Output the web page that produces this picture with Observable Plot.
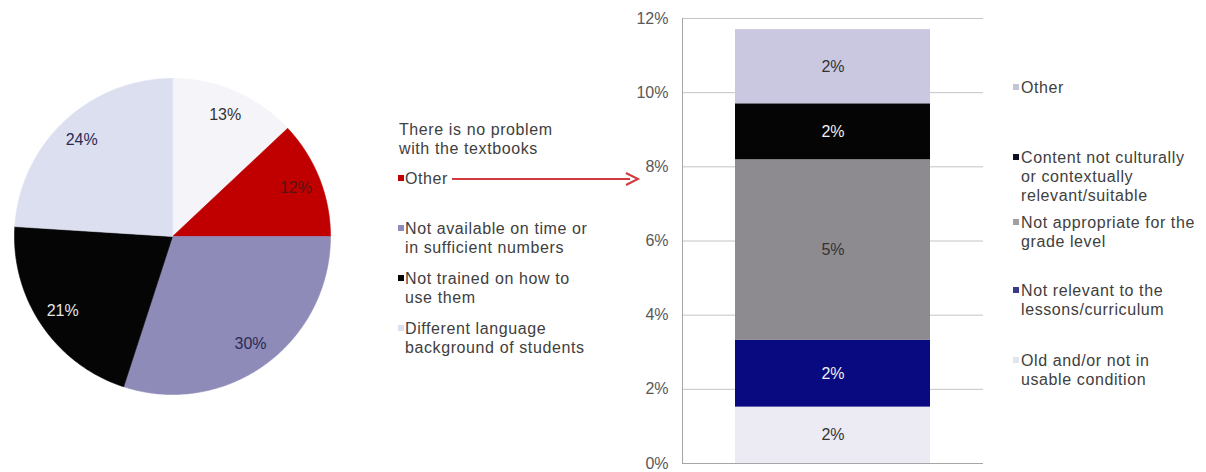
<!DOCTYPE html>
<html>
<head>
<meta charset="utf-8">
<script src="https://cdn.jsdelivr.net/npm/d3@7"></script>
<script src="https://cdn.jsdelivr.net/npm/@observablehq/plot@0.6"></script>
<style>
  html, body { margin: 0; padding: 0; background: #fff; }
  #root { position: relative; width: 1206px; height: 472px; overflow: hidden;
          font-family: "Liberation Sans", Arial, sans-serif; color: #404040; }
  .abs { position: absolute; left: 0; top: 0; }
  .leg { position: absolute; font-size: 16px; line-height: 19px; letter-spacing: 0.6px; white-space: nowrap; }
  .mk { position: absolute; width: 6px; height: 6px; }
</style>
</head>
<body>
<div id="root"></div>
<script>
// ---------- DATA ----------
// Pie: reasons textbooks are not used (clockwise from 12 o'clock)
const pieLabels = [
  "There is no problem with the textbooks",
  "Other",
  "Not available on time or in sufficient numbers",
  "Not trained on how to use them",
  "Different language background of students"
];
const pieValues = [0.13, 0.12, 0.30, 0.21, 0.24];
const pieColors = ["#f4f4f9", "#c00000", "#8e8bb8", "#050505", "#dcdff0"];
const pieTextColors = ["#333333", "#5a1212", "#2a2a55", "#e6e6e6", "#2a2a55"];
const pieLegendLines = [
  ["There is no problem", "with the textbooks"],
  ["Other"],
  ["Not available on time or", "in sufficient numbers"],
  ["Not trained on how to", "use them"],
  ["Different language", "background of students"]
];

// Stacked bar: breakdown of "Other" (bottom to top)
const barLabels = [
  "Old and/or not in usable condition",
  "Not relevant to the lessons/curriculum",
  "Not appropriate for the grade level",
  "Content not culturally or contextually relevant/suitable",
  "Other"
];
const barValues = [0.0152, 0.0180, 0.0487, 0.0151, 0.0200];
const barColors = ["#ecebf3", "#0a0a80", "#8e8b90", "#050505", "#c9c8e0"];
const barTextColors = ["#333333", "#f0f0f0", "#333333", "#f0f0f0", "#333333"];
const barMarkerColors = ["#e4e4ec", "#3a3a8a", "#a0a0a4", "#101020", "#c4c4d4"];
const barLegendLines = [
  ["Old and/or not in", "usable condition"],
  ["Not relevant to the", "lessons/curriculum"],
  ["Not appropriate for the", "grade level"],
  ["Content not culturally", "or contextually", "relevant/suitable"],
  ["Other"]
];
const yTicks = [0, 0.02, 0.04, 0.06, 0.08, 0.10, 0.12];
const barCategory = ["Textbooks: other"];

// ---------- LAYOUT ----------
const root = document.getElementById("root");
const fmt = d3.format(".0%");

// ---------- PIE ----------
const arcs = d3.pie().sort(null).value(d => d)(pieValues);
const slicePts = [];
arcs.forEach((a, i) => {
  const steps = Math.max(2, Math.ceil((a.endAngle - a.startAngle) / (Math.PI / 180)));
  slicePts.push({k: i, x: 0, y: 0});
  for (let s = 0; s <= steps; s++) {
    const t = a.startAngle + (a.endAngle - a.startAngle) * s / steps;
    slicePts.push({k: i, x: Math.sin(t), y: Math.cos(t)});
  }
  slicePts.push({k: i, x: 0, y: 0});
});
const pieText = arcs.map((a, i) => {
  const m = (a.startAngle + a.endAngle) / 2;
  return {x: 0.84 * Math.sin(m), y: 0.84 * Math.cos(m), t: fmt(pieValues[i]), c: pieTextColors[i]};
});

const pie = Plot.plot({
  width: 400, height: 472,
  margin: 0,
  x: {domain: [-1, 1], range: [14, 330], axis: null},
  y: {domain: [-1, 1], range: [394, 78], axis: null},
  color: {type: "identity"},
  style: {fontFamily: "'Liberation Sans', Arial, sans-serif", background: "transparent"},
  marks: [
    Plot.line(slicePts, {x: "x", y: "y", z: "k", fill: d => pieColors[d.k], stroke: d => pieColors[d.k], strokeWidth: 0.6, curve: "linear"}),
    Plot.text(pieText, {x: "x", y: "y", text: "t", fill: "c", fontSize: 16, letterSpacing: 0.3})
  ]
});
pie.classList.add("abs");
root.appendChild(pie);

// ---------- BAR ----------
const barData = barValues.map((v, i) => ({cat: barLabels[i], v, c: barColors[i], tc: barTextColors[i]}));
const bar = Plot.plot({
  width: 370, height: 472,
  marginLeft: 62, marginRight: 7, marginTop: 18, marginBottom: 9,
  x: {type: "band", domain: barCategory, paddingInner: 0, paddingOuter: 0.268, axis: null},
  y: {domain: [0, 0.12], axis: null},
  color: {type: "identity"},
  style: {fontFamily: "'Liberation Sans', Arial, sans-serif", background: "transparent"},
  marks: [
    Plot.gridY(yTicks, {stroke: "#c4c4c4", strokeOpacity: 1}),
    Plot.axisY(yTicks, {tickFormat: fmt, tickSize: 0, tickPadding: 14, fontSize: 16, fill: "#595959", label: null, letterSpacing: 0.3}),
    Plot.barY(barData, Plot.stackY({x: () => barCategory[0], y: "v", fill: "c", order: null})),
    Plot.text(barData, Plot.stackY({x: () => barCategory[0], y: "v", text: d => fmt(d.v), fill: "tc", fontSize: 16, order: null})),
    Plot.ruleY([0], {stroke: "#a6a6a6"}),
    Plot.frame({anchor: "left", stroke: "#a6a6a6"})
  ]
});
bar.classList.add("abs");
bar.style.left = "620px";
root.appendChild(bar);

// ---------- LEGENDS ----------
function legend(lines, marker, textX, markerX, yCenter, showMarker) {
  const div = document.createElement("div");
  div.className = "leg";
  div.style.left = textX + "px";
  div.style.top = (yCenter - 9.5) + "px";
  div.innerHTML = lines.join("<br>");
  root.appendChild(div);
  if (showMarker) {
    const m = document.createElement("div");
    m.className = "mk";
    m.style.left = markerX + "px";
    m.style.top = (yCenter - 3) + "px";
    m.style.background = marker;
    root.appendChild(m);
  }
}
const pieLegendY = [129, 178, 228, 278, 328];
pieLegendLines.forEach((lines, i) => {
  legend(lines, pieColors[i] === "#f4f4f9" ? "#fff" : pieColors[i], i === 0 ? 399 : 405, 398, pieLegendY[i], i !== 0);
});
const barLegendY = [360, 290, 222, 157, 87];
barLegendLines.forEach((lines, i) => {
  legend(lines, barMarkerColors[i], 1021, 1013, barLegendY[i], true);
});

// ---------- ARROW ----------
const ns = "http://www.w3.org/2000/svg";
const arrow = document.createElementNS(ns, "svg");
arrow.setAttribute("width", 1206); arrow.setAttribute("height", 472);
arrow.setAttribute("class", "abs");
arrow.innerHTML = '<line x1="452" y1="179" x2="630" y2="179" stroke="#d03a40" stroke-width="2"/>' +
  '<path d="M626,173 L638,179 L626,185" fill="none" stroke="#d03a40" stroke-width="2"/>';
root.appendChild(arrow);
</script>
</body>
</html>
